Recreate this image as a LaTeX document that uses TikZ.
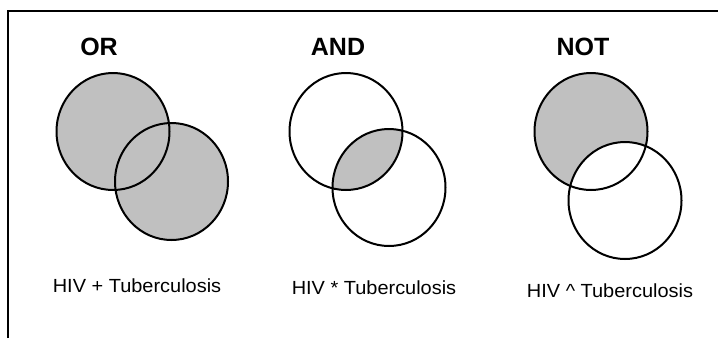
\documentclass[tikz,border=0pt]{standalone}
\usepackage{fontspec}
\setmainfont{Liberation Sans}
\newfontfamily\labelfont[FakeStretch=1.05]{Liberation Sans}
\usetikzlibrary{positioning}
\definecolor{venngray}{RGB}{192,192,192}

\begin{document}
\begin{tikzpicture}[x=1pt, y=-1pt,
  every node/.style={inner sep=0pt},
  setring/.style={draw=black, line width=2pt},
  setsize/.style={x radius=56.5pt, y radius=58.5pt},
  optitle/.style={font=\fontsize{25}{25}\selectfont\bfseries},
  oplabel/.style={font=\labelfont\fontsize{19}{19}\selectfont},
  frame/.style={draw=black, line width=2.5pt},
]
\useasboundingbox (0,0) rectangle (718,338);

%% ── Frame ──────────────────────────────────────────────────────────────────
\draw[frame] (8,338) -- (8,11) -- (718,11);

%% ── Set centres ────────────────────────────────────────────────────────────
\coordinate (orA)  at (113,131.5);
\coordinate (orB)  at (171.5,181.5);
\coordinate (andA) at (346,131.5);
\coordinate (andB) at (389,187.5);
\coordinate (notA) at (591,131.5);
\coordinate (notB) at (625,200.5);

%% ── OR: union ──────────────────────────────────────────────────────────────
\fill[venngray] (orA) ellipse[setsize] (orB) ellipse[setsize];
\draw[setring] (orA) ellipse[setsize];
\draw[setring] (orB) ellipse[setsize];

%% ── AND: intersection ──────────────────────────────────────────────────────
\begin{scope}
  \clip (andA) ellipse[setsize];
  \fill[venngray] (andB) ellipse[setsize];
\end{scope}
\draw[setring] (andA) ellipse[setsize];
\draw[setring] (andB) ellipse[setsize];

%% ── NOT: difference ────────────────────────────────────────────────────────
\begin{scope}
  \clip (notA) ellipse[setsize];
  \fill[venngray, even odd rule] (notA) ellipse[setsize] (notB) ellipse[setsize];
\end{scope}
\draw[setring] (notA) ellipse[setsize];
\draw[setring] (notB) ellipse[setsize];

%% ── Titles and queries ─────────────────────────────────────────────────────
\node[optitle] (orT)  at (99,47)  {OR};
\node[optitle] (andT) at (338,47) {AND};
\node[optitle] (notT) at (583,47) {NOT};

\node[oplabel] (orQ)  at (137,286) {HIV + Tuberculosis};
\node[oplabel] (andQ) at (374,288) {HIV * Tuberculosis};
\node[oplabel] (notQ) at (610,291) {HIV \^{} Tuberculosis};

\end{tikzpicture}
\end{document}
